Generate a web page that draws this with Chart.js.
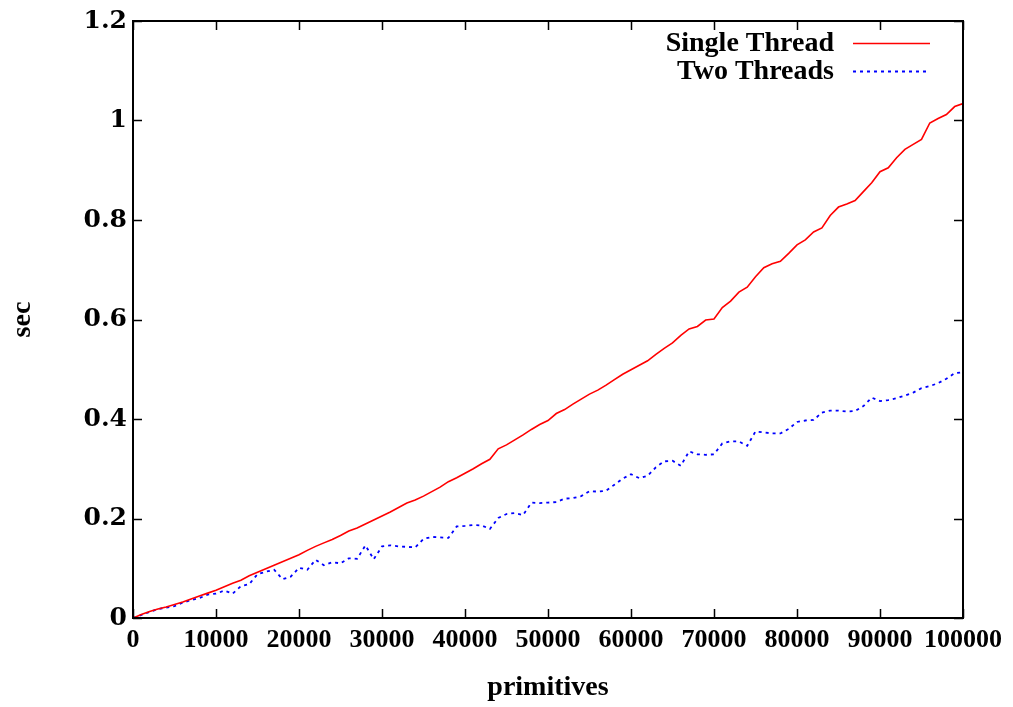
<!DOCTYPE html>
<html>
<head>
<meta charset="utf-8">
<script src="https://cdn.jsdelivr.net/npm/chart.js@4/dist/chart.umd.min.js"></script>
<style>
  html, body { margin: 0; padding: 0; background: #ffffff; }
  #wrap { width: 1013px; height: 707px; }
</style>
</head>
<body>
<div id="wrap"><canvas id="c" width="1013" height="707"></canvas></div>
<script>
// ---- data ----
const primitives = [0,1000,2000,3000,4000,5000,6000,7000,8000,9000,
  10000,11000,12000,13000,14000,15000,16000,17000,18000,19000,
  20000,21000,22000,23000,24000,25000,26000,27000,28000,29000,
  30000,31000,32000,33000,34000,35000,36000,37000,38000,39000,
  40000,41000,42000,43000,44000,45000,46000,47000,48000,49000,
  50000,51000,52000,53000,54000,55000,56000,57000,58000,59000,
  60000,61000,62000,63000,64000,65000,66000,67000,68000,69000,
  70000,71000,72000,73000,74000,75000,76000,77000,78000,79000,
  80000,81000,82000,83000,84000,85000,86000,87000,88000,89000,
  90000,91000,92000,93000,94000,95000,96000,97000,98000,99000,100000];

const singleThread = [0.000,0.007,0.013,0.018,0.022,0.027,0.032,0.038,0.044,0.050,
  0.056,0.063,0.070,0.076,0.085,0.092,0.099,0.106,0.113,0.120,
  0.127,0.136,0.144,0.151,0.158,0.166,0.175,0.181,0.189,0.197,
  0.205,0.213,0.222,0.231,0.237,0.245,0.254,0.263,0.274,0.282,
  0.291,0.300,0.310,0.319,0.340,0.348,0.358,0.368,0.379,0.389,
  0.397,0.411,0.419,0.430,0.440,0.450,0.458,0.468,0.479,0.490,
  0.499,0.508,0.517,0.530,0.542,0.553,0.568,0.581,0.586,0.599,
  0.601,0.624,0.637,0.655,0.665,0.686,0.704,0.712,0.717,0.733,
  0.750,0.760,0.776,0.784,0.809,0.826,0.832,0.839,0.857,0.875,
  0.897,0.905,0.925,0.942,0.952,0.962,0.995,1.004,1.012,1.028,1.034];

const twoThreads = [0.000,0.006,0.012,0.018,0.021,0.024,0.031,0.036,0.040,0.047,
  0.049,0.055,0.049,0.064,0.068,0.088,0.093,0.097,0.078,0.083,
  0.101,0.097,0.117,0.106,0.112,0.110,0.120,0.119,0.146,0.118,
  0.144,0.146,0.144,0.143,0.142,0.159,0.163,0.162,0.161,0.184,
  0.185,0.187,0.186,0.179,0.201,0.209,0.211,0.207,0.232,0.231,
  0.232,0.233,0.240,0.241,0.245,0.255,0.254,0.256,0.268,0.280,
  0.289,0.281,0.286,0.303,0.315,0.316,0.306,0.335,0.329,0.328,
  0.329,0.351,0.355,0.355,0.346,0.375,0.373,0.371,0.371,0.380,
  0.394,0.397,0.398,0.413,0.417,0.417,0.415,0.416,0.426,0.443,
  0.436,0.438,0.442,0.447,0.453,0.462,0.466,0.472,0.481,0.492,0.494];

const seriesLabels = ['Single Thread', 'Two Threads'];
const xTickLabels = ['0','10000','20000','30000','40000','50000','60000','70000','80000','90000','100000'];
const yTickLabels = ['0','0.2','0.4','0.6','0.8','1','1.2'];
const xTitle = 'primitives';
const yTitle = 'sec';

// ---- styles ----
const SERIF = '"Liberation Serif", "DejaVu Serif", serif';
const KEY_FONT = 'bold 28px ' + SERIF;
const xTickFont = { family: SERIF, size: 26, weight: 'bold' };
const yTickFont = { family: '"DejaVu Serif", serif', size: 25, weight: 'bold' };
const titleFont = { family: SERIF, size: 28, weight: 'bold' };

const toPts = (xs, ys) => xs.map((x, i) => ({ x: x, y: ys[i] }));

const frame = {
  id: 'gnuplotFrame',
  afterDraw(chart) {
    const { ctx, chartArea: a, scales } = chart;
    ctx.save();
    ctx.strokeStyle = '#000';
    ctx.lineWidth = 2;
    ctx.strokeRect(a.left, a.top, a.right - a.left, a.bottom - a.top);
    ctx.lineWidth = 1.5;
    const L = 9;
    ctx.beginPath();
    scales.x.ticks.forEach(t => {
      const px = Math.round(scales.x.getPixelForValue(t.value)) + 0.5;
      ctx.moveTo(px, a.bottom); ctx.lineTo(px, a.bottom - L);
      ctx.moveTo(px, a.top); ctx.lineTo(px, a.top + L);
    });
    scales.y.ticks.forEach(t => {
      const py = Math.round(scales.y.getPixelForValue(t.value)) + 0.5;
      ctx.moveTo(a.left, py); ctx.lineTo(a.left + L, py);
      ctx.moveTo(a.right, py); ctx.lineTo(a.right - L, py);
    });
    ctx.stroke();

    // key (legend), gnuplot style: text right-aligned, sample line to the right
    ctx.font = KEY_FONT;
    ctx.textAlign = 'right';
    ctx.textBaseline = 'middle';
    chart.data.datasets.forEach((ds, i) => {
      const y = 43 + i * 28;
      ctx.fillStyle = '#000';
      ctx.fillText(ds.label, 834, y + 1);
      ctx.strokeStyle = ds.borderColor;
      ctx.lineWidth = ds.borderWidth;
      ctx.setLineDash(ds.borderDash || []);
      ctx.beginPath();
      ctx.moveTo(853, y + 0.5); ctx.lineTo(930, y + 0.5);
      ctx.stroke();
      ctx.setLineDash([]);
    });
    ctx.restore();
  }
};

new Chart(document.getElementById('c'), {
  type: 'line',
  data: {
    datasets: [
      { label: seriesLabels[0], data: toPts(primitives, singleThread),
        borderColor: '#ff0000', borderWidth: 1.6, pointRadius: 0, tension: 0, fill: false },
      { label: seriesLabels[1], data: toPts(primitives, twoThreads),
        borderColor: '#0000ff', borderWidth: 1.8, borderDash: [3, 4], pointRadius: 0, tension: 0, fill: false }
    ]
  },
  options: {
    responsive: false,
    animation: false,
    layout: { padding: { top: 19, right: 50, left: 0, bottom: 0 } },
    plugins: { legend: { display: false }, tooltip: { enabled: false } },
    scales: {
      x: {
        type: 'linear', min: 0, max: 100000,
        afterFit(s) { s.height = 89; },
        afterBuildTicks(s) { s.ticks = xTickLabels.map(l => ({ value: Number(l) })); },
        grid: { display: false, drawTicks: false },
        border: { display: false },
        ticks: { color: '#000', font: xTickFont, padding: 7, maxRotation: 0, autoSkip: false,
          callback: (v, i) => xTickLabels[i] },
        title: { display: true, text: xTitle, color: '#000', font: titleFont, padding: { top: 0, bottom: 2 } }
      },
      y: {
        type: 'linear', min: 0, max: 1.2,
        afterFit(s) { s.width = 133; },
        afterBuildTicks(s) { s.ticks = yTickLabels.map(l => ({ value: Number(l) })); },
        grid: { display: false, drawTicks: false },
        border: { display: false },
        ticks: { color: '#000', font: yTickFont, padding: 6, autoSkip: false,
          callback: (v, i) => yTickLabels[i] },
        title: { display: true, text: yTitle, color: '#000', font: titleFont, padding: { top: 6, bottom: 0 } }
      }
    }
  },
  plugins: [frame]
});
</script>
</body>
</html>
